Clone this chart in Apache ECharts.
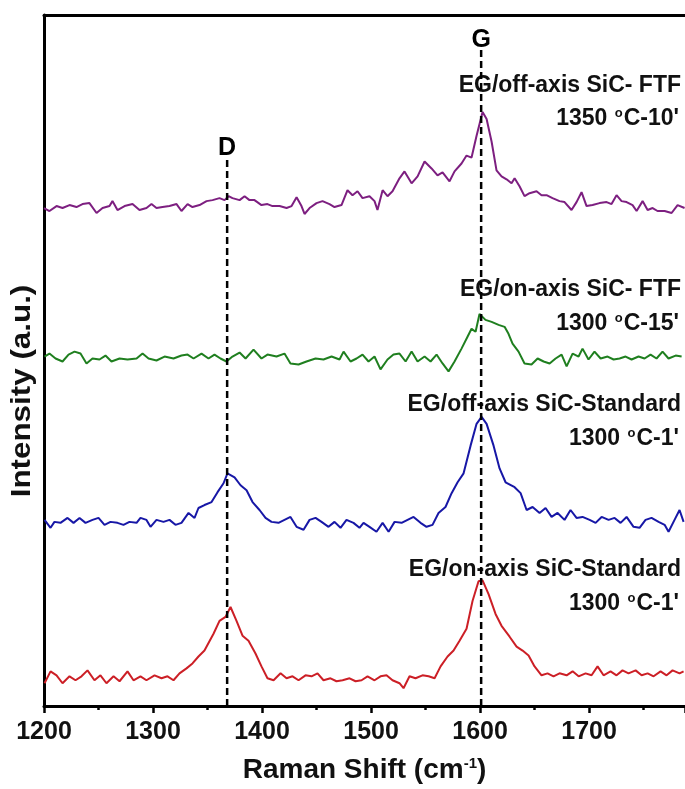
<!DOCTYPE html>
<html>
<head>
<meta charset="utf-8">
<script src="https://cdn.jsdelivr.net/npm/echarts@6/dist/echarts.min.js"></script>
<style>
html,body{margin:0;padding:0;background:#fff;}
#chart{width:685px;height:789px;}
</style>
</head>
<body>
<div id="chart"></div>
<script>
// raman spectra (intensity in a.u., offsets included)
const purpleShift = [1200,1205,1211.5,1217,1223.4,1229.8,1235.3,1241.7,1248.2,1253.7,1260.1,1262.8,1267.4,1273.9,1281.2,1287.6,1294,1298.6,1303.2,1308.7,1315.1,1321.6,1326.1,1331.7,1336.2,1342.7,1349.1,1354.6,1361,1365.6,1369.3,1372.9,1379.4,1384,1388.5,1393.1,1399.5,1405,1409.6,1416.1,1422.5,1427.1,1431.7,1436.2,1439,1443.6,1450,1455.5,1461.9,1466.5,1472.9,1478.4,1483,1487.6,1492.2,1498.6,
  1503.2,1505.9,1510.6,1515.1,1519.7,1526.1,1530.7,1537.2,1542.7,1549.1,1555.5,1561,1565.6,1572,1576.6,1583,1587.6,1592.2,1596.8,1602.3,1606,1610.6,1615.1,1619.7,1624.3,1628.9,1631.7,1636.2,1640.8,1645.4,1651.8,1656.4,1661,1666.5,1672.9,1677.5,1683.9,1688.5,1693.1,1697.7,1703.2,1709.6,1716.1,1720.6,1725.2,1729.8,1734.4,1739.9,1743.6,1749.1,1753.7,1758.3,1762.8,1769.3,1775.7,1781.2,1787.6];
const purpleIntensity = [503,500,505,503,506,504,507,508,498,503,505,510,501,505,507,501,503,507,503,504,505,507,500,507,504,506,510,511,513,511,515,513,511,515,511,511,506,507,505,505,503,505,514,505,497,503,508,510,507,504,506,521,516,520,513,515,
  510,501,521,515,520,533,540,528,535,550,543,536,539,530,540,548,556,554,576,600,593,570,541,535,532,528,533,525,515,518,520,516,516,513,510,509,501,509,519,505,506,508,509,507,516,510,509,506,500,510,501,503,500,500,498,506,503];

const greenShift = [1200.5,1205,1210.6,1217,1222.5,1228,1233.5,1239,1244.5,1250.9,1256.4,1261.9,1269.3,1276.6,1284.9,1290.4,1295.9,1303.2,1310.6,1318.8,1326.1,1331.7,1337.2,1344.5,1350.9,1356.4,1361.9,1367.4,1372.9,1379.4,1384.9,1392.2,1399.5,1405,1413.3,1420.6,1426.1,1433.5,1440.8,1449.1,1456.4,1463.8,1471.1,1474.8,1481.2,1486.7,1492.2,1497.7,1503.2,1508.7,1515.1,1520.6,1526.1,1531.7,1537.2,1542.7,1549.1,1554.6,1560.1,1565.6,1571.1,1576.6,1583,1588.5,1592.2,1595.9,1599.5,1605,1610.6,1617,1622.5,1626.1,1629.8,1635.3,1640.8,1647.2,1652.8,1658.3,1663.8,1669.3,1674.8,1679.4,1684.9,1690.4,1694,1699.5,1705,1710.6,1717,1722.5,1728,1733.5,1739,1745.4,1750.9,1756.4,1761.9,1767.4,1772.9,1779.4,1784.9];
const greenIntensity = [353,356,351,348,355,358,356,346,351,350,354,348,351,350,351,356,351,349,353,351,354,355,351,356,351,355,351,348,353,357,351,360,351,355,353,356,346,345,348,351,350,353,350,358,348,351,355,348,353,340,350,355,356,348,358,348,353,348,355,346,338,348,361,373,381,378,396,390,388,385,383,376,366,358,346,345,351,348,346,351,355,343,356,353,361,350,358,351,353,350,351,353,350,353,351,355,351,358,351,354,353];

const blueShift = [1200.5,1206,1209.6,1215.1,1221.6,1227.1,1232.6,1238.1,1244.5,1250,1255.5,1261,1267.4,1272.9,1278.4,1284.9,1288.5,1294,1297.7,1303.2,1309.6,1315.1,1320.6,1326.1,1332.6,1338.1,1341.7,1347.2,1353.7,1359.2,1364.7,1368.3,1374.8,1380.3,1385.8,1391.3,1397.7,1403.2,1408.7,1415.1,1420.6,1426.1,1431.7,1438.1,1443.6,1449.1,1454.6,1461,1466.5,1472,1477.5,1483.9,1489.4,1493.1,1498.6,1505,1510.6,1516.1,1521.6,1528,1533.5,1539,1545.4,1550.9,1556.4,1561.9,1568.3,1573.9,1579.4,1584.9,1591.3,1596.8,1601.4,1606,1612.4,1617.9,1623.4,1631.7,1637.2,1642.7,1648.2,1654.6,1660.1,1665.6,1671.1,1677.5,1683,1688.5,1694,1700.5,1706,1711.5,1717.9,1723.4,1728.9,1734.4,1740.8,1746.3,1751.8,1757.3,1763.8,1769.3,1772.9,1778.4,1783,1786.7];
const blueIntensity = [188,180,186,185,190,185,190,185,188,190,183,186,185,183,186,185,190,188,181,188,186,188,183,185,195,190,200,203,206,216,225,235,231,223,218,206,198,190,186,185,188,191,181,178,188,190,186,181,186,180,188,185,180,185,181,176,185,176,186,185,188,191,185,181,183,195,201,215,226,235,263,285,292,285,263,240,226,221,215,198,201,195,200,191,195,188,198,190,191,188,185,191,188,190,185,191,181,180,188,190,186,183,176,188,198,186];

const redShift = [1200.5,1206,1211.5,1217,1223.4,1228.9,1234.4,1239.9,1246.3,1251.8,1257.3,1263.8,1269.3,1276.6,1282.1,1288.5,1294,1301.4,1307.8,1313.3,1318.8,1324.3,1330.7,1336.2,1341.7,1347.2,1355.5,1361,1366.5,1371.1,1376.6,1382.1,1387.6,1394,1399.5,1405,1410.6,1417,1422.5,1428,1433.5,1439.9,1445.4,1450.9,1456.4,1462.8,1468.3,1473.9,1480.3,1485.8,1491.3,1496.8,1503.2,1508.7,1514.2,1519.7,1526.1,1529.8,1535.3,1540.8,1547.2,1552.8,1558.3,1563.8,1570.2,1575.7,1581.2,1587.6,1593.1,1598.6,1602.3,1607.8,1614.2,1619.7,1627.1,1633.5,1639,1644.5,1650,1656.4,1661.9,1667.4,1672.9,1679.4,1684.9,1690.4,1696.8,1702.3,1707.8,1713.3,1719.7,1725.2,1730.7,1736.2,1742.7,1748.2,1753.7,1759.2,1765.6,1771.1,1776.6,1783,1786.7];
const redIntensity = [23,35,31,23,30,26,30,36,26,31,23,30,25,35,26,30,26,31,28,30,26,33,38,43,50,56,73,86,90,100,86,71,66,53,40,28,26,33,28,30,26,31,30,33,26,28,25,26,28,25,26,30,26,30,31,26,23,18,30,28,31,30,28,40,50,56,66,78,106,126,127,113,93,81,70,60,56,51,40,31,33,30,33,31,35,30,33,31,40,31,35,31,36,33,36,31,33,30,35,31,36,33,35];

// peak markers (dashed lines) and their upper ends
const peakNames = ['D', 'G'];
const peakShift = [1368, 1601];
const peakTop = [553, 663];

const spectrumTitles = ['EG/off-axis SiC- FTF', 'EG/on-axis SiC- FTF', 'EG/off-axis SiC-Standard', 'EG/on-axis SiC-Standard'];
const spectrumConds = ['1350 {sup|o}C-10\'', '1300 {sup|o}C-15\'', '1300 {sup|o}C-1\'', '1300 {sup|o}C-1\''];

const font = 'Liberation Sans, Arial, sans-serif';

function zip(a, b) {
  return a.map((v, i) => [v, b[i]]);
}

function spectrum(name, xs, ys, color) {
  return {
    name: name,
    type: 'line',
    data: zip(xs, ys),
    showSymbol: false,
    symbol: 'none',
    lineStyle: {color: color, width: 2},
    z: 2
  };
}

let series = [
  spectrum('purple', purpleShift, purpleIntensity, '#7d1f80'),
  spectrum('green', greenShift, greenIntensity, '#1f7f1f'),
  spectrum('blue', blueShift, blueIntensity, '#1717a6'),
  spectrum('red', redShift, redIntensity, '#cc1f26')
];

peakNames.forEach((n, i) => {
  series.push({
    type: 'line',
    data: [
      [peakShift[i], 0],
      {value: [peakShift[i], peakTop[i]], label: {show: true, formatter: n, position: 'top', distance: -3,
        color: '#000', fontFamily: font, fontWeight: 'bold', fontSize: 25}}
    ],
    symbol: 'circle',
    symbolSize: 1,
    itemStyle: {color: 'rgba(0,0,0,0)'},
    lineStyle: {color: '#000', width: 2.5, type: [7, 4]},
    z: 5,
    silent: true
  });
});

// label text boxes, right aligned near the right edge
const labelRows = [[84, 117], [288, 322], [403, 437], [568, 602]];
let graphics = [];
spectrumTitles.forEach((t, i) => {
  graphics.push({
    type: 'text', right: 4, top: labelRows[i][0] - 10,
    style: {text: t, font: 'bold 23px ' + font, fill: '#111'}
  });
  graphics.push({
    type: 'text', right: 6, top: labelRows[i][1] - 10,
    style: {
      text: spectrumConds[i], font: 'bold 23px ' + font, fill: '#111',
      rich: {sup: {fontSize: 13, fontWeight: 'bold', fontFamily: font, verticalAlign: 'top', padding: [0, 1, 10, 1]}}
    }
  });
});
// y title is a little stretched along its length in the source
graphics.push({
  type: 'text', x: 22, y: 391, rotation: Math.PI / 2, scaleX: 1.12,
  style: {text: 'Intensity (a.u.)', font: 'bold 28px ' + font, fill: '#111', align: 'center', verticalAlign: 'middle'}
});

let myChart = echarts.init(document.getElementById('chart'));
myChart.setOption({
  backgroundColor: '#fff',
  animation: false,
  grid: {left: 44, right: 0, top: 15, bottom: 76},
  xAxis: [{
    type: 'value', min: 1200, max: 1788, interval: 100,
    name: 'Raman Shift (cm{sup|-1})', nameLocation: 'middle', nameGap: 50,
    nameTextStyle: {fontFamily: font, fontWeight: 'bold', fontSize: 28, color: '#111',
      rich: {sup: {fontFamily: font, fontWeight: 'bold', fontSize: 15, verticalAlign: 'top', padding: [0, 0, 12, 0]}}},
    axisLine: {lineStyle: {color: '#000', width: 3}},
    axisTick: {length: 7, lineStyle: {color: '#000', width: 2.5}},
    minorTick: {show: true, splitNumber: 2, length: 4, lineStyle: {color: '#000', width: 2.5}},
    axisLabel: {fontFamily: font, fontWeight: 'bold', fontSize: 25, color: '#111', margin: 14,
      showMaxLabel: false, formatter: v => String(v)},
    splitLine: {show: false}
  }, {
    type: 'value', position: 'top', min: 1200, max: 1788,
    axisLine: {lineStyle: {color: '#000', width: 3}},
    axisTick: {show: false}, axisLabel: {show: false}, splitLine: {show: false}
  }],
  yAxis: {
    type: 'value', min: 0, max: 698,
    axisLine: {show: true, lineStyle: {color: '#000', width: 3}},
    axisTick: {show: false}, axisLabel: {show: false}, splitLine: {show: false}
  },
  graphic: graphics,
  series: series
});
</script>
</body>
</html>
